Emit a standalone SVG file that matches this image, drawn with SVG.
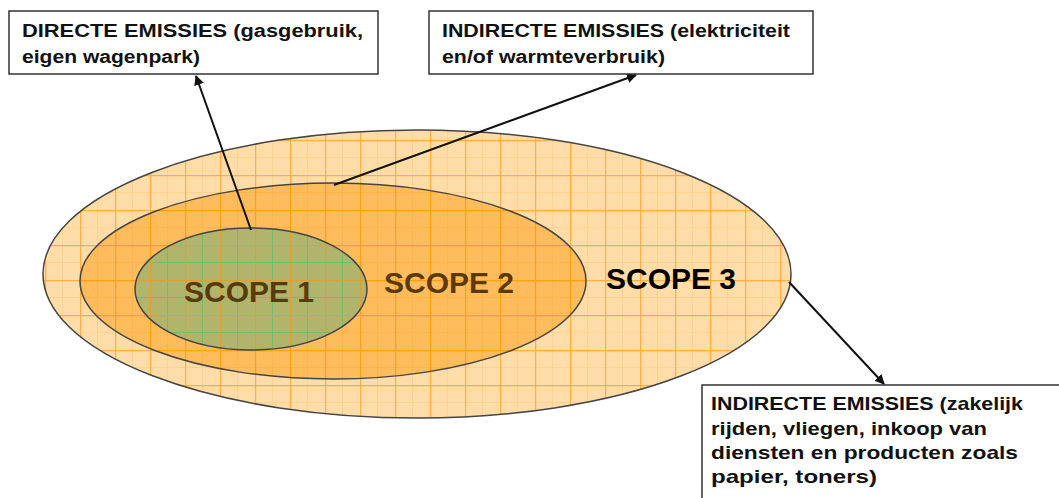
<svg xmlns="http://www.w3.org/2000/svg" width="1059" height="498" viewBox="0 0 1059 498">
<style>
.box{fill:#fff;stroke:#333;stroke-width:1.5}
.lbl{font-family:"Liberation Sans",Arial,sans-serif;font-weight:bold;font-size:18px;fill:#111}
.lbl3{font-family:"Liberation Sans",Arial,sans-serif;font-weight:bold;font-size:19px;fill:#111}
.scope{font-family:"Liberation Sans",Arial,sans-serif;font-weight:bold;font-size:30px}
.conn{stroke:#111;stroke-width:2;fill:none;marker-end:url(#ah)}
.ell{stroke:#444;stroke-width:1.5}
</style>
<defs>
<marker id="ah" viewBox="0 0 10 10" refX="9" refY="5" markerWidth="5" markerHeight="5" orient="auto" markerUnits="strokeWidth">
<path d="M0,0 L10,5 L0,10 z" fill="#111"/>
</marker>
<pattern id="g3" x="10" y="0" width="35" height="35" patternUnits="userSpaceOnUse">
<rect width="35" height="35" fill="#FFDCA8"/>
<path d="M17.5,0V35M0,17.5H35" stroke="#FFC878" stroke-width="1" opacity="0.5"/>
<path d="M0.5,0V35M0,0.5H35" stroke="#FFB040" stroke-width="1.5"/>
</pattern>
<pattern id="g2" x="10" y="0" width="35" height="35" patternUnits="userSpaceOnUse">
<rect width="35" height="35" fill="#FFBC5C"/>
<path d="M17.5,0V35M0,17.5H35" stroke="#FFAA38" stroke-width="1" opacity="0.5"/>
<path d="M0.5,0V35M0,0.5H35" stroke="#FFA010" stroke-width="1.5"/>
</pattern>
<pattern id="g1" x="10" y="0" width="35" height="35" patternUnits="userSpaceOnUse">
<rect width="35" height="35" fill="#B1B56C"/>
<path d="M17.5,0V35M0,17.5H35" stroke="#74BC72" stroke-width="1"/>
<path d="M0.5,0V35M0,0.5H35" stroke="#DDA035" stroke-width="1.5"/>
</pattern>
</defs>
<g id="scope3">
<ellipse class="ell" cx="417" cy="274" rx="374" ry="144" fill="url(#g3)"/>
<text class="scope" x="671" y="289" text-anchor="middle" fill="#000">SCOPE 3</text>
</g>
<g id="scope2">
<ellipse class="ell" cx="333" cy="281" rx="253" ry="98" fill="url(#g2)"/>
<text class="scope" x="449" y="293" text-anchor="middle" fill="#5A3A08">SCOPE 2</text>
</g>
<g id="scope1">
<ellipse class="ell" cx="251" cy="289" rx="116" ry="61" fill="url(#g1)"/>
<text class="scope" x="249" y="302" text-anchor="middle" fill="#5A3A08">SCOPE 1</text>
</g>
<g id="connectors">
<line class="conn" x1="251" y1="230" x2="196" y2="76"/>
<line class="conn" x1="334" y1="185" x2="636" y2="75"/>
<line class="conn" x1="789" y1="282" x2="884" y2="384"/>
</g>
<g id="box1">
<rect class="box" x="9" y="11" width="369" height="63"/>
<text class="lbl" x="22" y="37" textLength="341" lengthAdjust="spacingAndGlyphs">DIRECTE EMISSIES (gasgebruik,</text>
<text class="lbl" x="22" y="63" textLength="178" lengthAdjust="spacingAndGlyphs">eigen wagenpark)</text>
</g>
<g id="box2">
<rect class="box" x="429" y="11" width="384" height="63"/>
<text class="lbl" x="442" y="37" textLength="348" lengthAdjust="spacingAndGlyphs">INDIRECTE EMISSIES (elektriciteit</text>
<text class="lbl" x="442" y="63" textLength="223" lengthAdjust="spacingAndGlyphs">en/of warmteverbruik)</text>
</g>
<g id="box3">
<rect class="box" x="702" y="385" width="370" height="130"/>
<text class="lbl3" x="711" y="410" textLength="312" lengthAdjust="spacingAndGlyphs">INDIRECTE EMISSIES (zakelijk</text>
<text class="lbl3" x="711" y="435" textLength="276" lengthAdjust="spacingAndGlyphs">rijden, vliegen, inkoop van</text>
<text class="lbl3" x="711" y="459" textLength="307" lengthAdjust="spacingAndGlyphs">diensten en producten zoals</text>
<text class="lbl3" x="711" y="483" textLength="166" lengthAdjust="spacingAndGlyphs">papier, toners)</text>
</g>
</svg>
